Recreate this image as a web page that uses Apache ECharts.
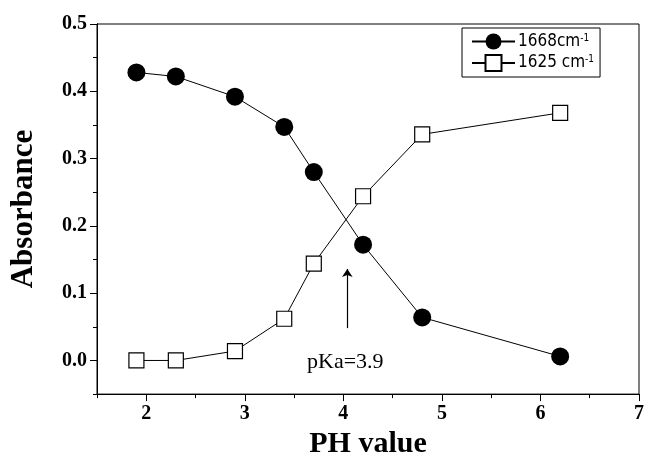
<!DOCTYPE html>
<html>
<head>
<meta charset="utf-8">
<script src="https://cdn.jsdelivr.net/npm/echarts@6/dist/echarts.min.js"></script>
<style>
  html, body { margin: 0; padding: 0; background: #fff; }
  #chart { width: 647px; height: 464px; }
</style>
</head>
<body>
<div id="chart"></div>
<script>
// pH values and absorbance
const phValues = [1.9, 2.3, 2.9, 3.4, 3.7, 4.2, 4.8, 6.2];
const abs1668 = [0.428, 0.422, 0.392, 0.347, 0.280, 0.172, 0.064, 0.006];
const abs1625 = [0.000, 0.000, 0.014, 0.062, 0.144, 0.244, 0.336, 0.368];
const xMajorTicks = [2, 3, 4, 5, 6, 7];
const yMajorTicks = [0, 0.1, 0.2, 0.3, 0.4, 0.5];
// pKa annotation: arrow from (x, y0) to (x, y1), label below
const pkaArrow = [4.04, 0.048, 0.136];
const pkaLabel = [4.02, -0.002];

const chart = echarts.init(document.getElementById("chart"));

const serif = "'Liberation Serif', 'Times New Roman', serif";
const narrow = "'Liberation Sans Narrow', 'Arial Narrow', 'DejaVu Sans Condensed', sans-serif";

const tickLabel = {
  color: "#000",
  fontFamily: serif,
  fontWeight: "bold",
  fontSize: 20
};

const legendRich = {
  n: { fontFamily: narrow, fontSize: 17, color: "#000", verticalAlign: "bottom" },
  s: { fontFamily: narrow, fontSize: 10, color: "#000", verticalAlign: "top" }
};

const option = {
  animation: false,
  grid: {
    left: 97,
    right: 3,
    top: 24,
    bottom: 64,
    show: true,
    borderColor: "#000",
    borderWidth: 1
  },
  legend: {
    left: 462,
    top: 28,
    orient: "vertical",
    itemWidth: 43,
    itemHeight: 20,
    itemGap: 4,
    padding: [5, 6, 5, 9],
    borderColor: "#000",
    borderWidth: 1,
    selectedMode: false,
    data: ["1668cm-1", "1625 cm-1"],
    formatter: name => "{n|" + name.slice(0, -2) + "}{s|-1}",
    textStyle: { rich: legendRich, padding: [0, 0, 0, -2] }
  },
  xAxis: [
    {
      type: "value",
      min: 1.5,
      max: 7,
      position: "bottom",
      name: "PH value",
      nameLocation: "middle",
      nameGap: 34,
      nameTextStyle: { color: "#000", fontFamily: serif, fontWeight: "bold", fontSize: 30 },
      axisLine: { onZero: false, lineStyle: { color: "#000", width: 1 } },
      axisTick: { customValues: xMajorTicks, length: 7, lineStyle: { color: "#000", width: 1 } },
      axisLabel: Object.assign({ customValues: xMajorTicks, margin: 10, formatter: v => String(v) }, tickLabel),
      splitLine: { show: false }
    },
    {
      type: "value",
      min: 1.5,
      max: 7,
      interval: 0.5,
      position: "bottom",
      axisLine: { onZero: false, lineStyle: { color: "#000", width: 1 } },
      axisTick: { length: 4, lineStyle: { color: "#000", width: 1 } },
      axisLabel: { show: false },
      splitLine: { show: false }
    }
  ],
  yAxis: [
    {
      type: "value",
      min: -0.05,
      max: 0.5,
      position: "left",
      name: "Absorbance",
      nameLocation: "middle",
      nameGap: 58,
      nameTextStyle: { color: "#000", fontFamily: serif, fontWeight: "bold", fontSize: 31 },
      axisLine: { onZero: false, lineStyle: { color: "#000", width: 1 } },
      axisTick: { customValues: yMajorTicks, length: 7, lineStyle: { color: "#000", width: 1 } },
      axisLabel: Object.assign({ customValues: yMajorTicks, margin: 10, formatter: v => v.toFixed(1) }, tickLabel),
      splitLine: { show: false }
    },
    {
      type: "value",
      min: -0.05,
      max: 0.5,
      interval: 0.05,
      position: "left",
      axisLine: { onZero: false, lineStyle: { color: "#000", width: 1 } },
      axisTick: { length: 4, lineStyle: { color: "#000", width: 1 } },
      axisLabel: { show: false },
      splitLine: { show: false }
    }
  ],
  series: [
    {
      name: "1668cm-1",
      type: "line",
      xAxisIndex: 0,
      yAxisIndex: 0,
      data: phValues.map((x, i) => [x, abs1668[i]]),
      symbol: "circle",
      symbolSize: 18,
      itemStyle: { color: "#000" },
      lineStyle: { color: "#000", width: 1 },
      markLine: {
        silent: true,
        symbol: ["none", "arrow"],
        symbolSize: 8,
        lineStyle: { color: "#000", width: 1.2, type: "solid" },
        label: { show: false },
        data: [[
          { coord: [pkaArrow[0], pkaArrow[1]] },
          { coord: [pkaArrow[0], pkaArrow[2]] }
        ]]
      },
      markPoint: {
        silent: true,
        symbol: "circle",
        symbolSize: 0,
        label: {
          show: true,
          position: "inside",
          formatter: "pKa=3.9",
          color: "#000",
          fontFamily: serif,
          fontSize: 22
        },
        data: [{ coord: pkaLabel }]
      }
    },
    {
      name: "1625 cm-1",
      type: "line",
      xAxisIndex: 0,
      yAxisIndex: 0,
      data: phValues.map((x, i) => [x, abs1625[i]]),
      symbol: "rect",
      symbolSize: 15,
      itemStyle: { color: "#fff", borderColor: "#000", borderWidth: 1.2 },
      lineStyle: { color: "#000", width: 1 }
    }
  ]
};

chart.setOption(option);
window.addEventListener("resize", () => chart.resize(), false);
</script>
</body>
</html>
